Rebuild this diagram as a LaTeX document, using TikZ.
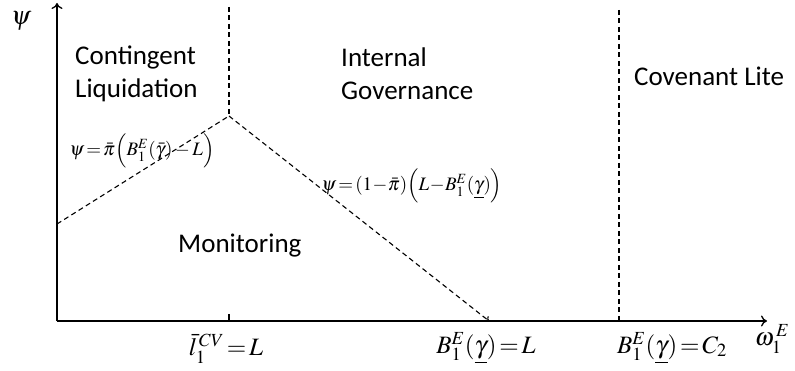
\documentclass[tikz,border=0pt]{standalone}
\usepackage{mathptmx}
\usepackage[no-math]{fontspec}
\setmainfont{Carlito}
\usetikzlibrary{arrows.meta}
\begin{document}
\begin{tikzpicture}[x=1pt,y=-1pt,
  axis/.style={line width=1.3pt, -{To[length=6pt,width=11pt]}},
  dline/.style={line width=1.1pt, dash pattern=on 5pt off 3.5pt},
  region/.style={font=\fontsize{27}{33}\selectfont, align=left, inner sep=0pt},
  eqlab/.style={font=\fontsize{19}{22}\selectfont, inner sep=0pt},
  axlab/.style={font=\fontsize{25}{28}\selectfont, inner sep=0pt}]
\useasboundingbox (0,0) rectangle (795,371);
\coordinate (O) at (57,321);
\coordinate (ytop) at (57,3);
\coordinate (xend) at (767,321);
\draw[axis] (O) -- (ytop);
\draw[axis] (O) -- (xend);
\coordinate (K) at (229,116);
\coordinate (Ktop) at (229,7);
\coordinate (A) at (57,224);
\coordinate (B) at (489,321);
\coordinate (Ctop) at (619,10);
\coordinate (Cbot) at (619,321);
\coordinate (T) at (229,314);
\coordinate (Tb) at (229,321);
\draw[dline] (Ktop) -- (K);
\draw[dline] (A) -- (K);
\draw[dline, -{To[length=4pt,width=7pt]}] (K) -- (B);
\draw[dline] (Ctop) -- (Cbot);
\draw[line width=1.1pt] (T) -- (Tb);
\node[region, anchor=west] (cl) at (75,74) {Contingent\\Liquidation};
\node[region, anchor=west] (ig) at (341,74) {Internal\\Governance};
\node[region, anchor=west] (cov) at (634,76) {Covenant Lite};
\node[region, anchor=west] (mon) at (178,246) {Monitoring};
\node[axlab, font=\fontsize{26}{28}\selectfont] (psi) at (21,21) {$\psi$};
\node[eqlab] (eq1) at (142,151) {$\psi\mkern-2mu=\mkern-2mu\bar\pi\Bigl(B_1^E(\bar\gamma)-L\Bigr)$};
\node[eqlab] (eq2) at (412,186) {$\psi\!=\!(1\!-\!\bar\pi)\Bigl(L\!-\!B_1^E(\underline{\gamma})\Bigr)$};
\node[axlab] (x1) at (226,349) {$\bar l_1^{\,CV}\!=\!L$};
\node[axlab] (x2) at (486,348) {$B_1^E(\underline{\gamma})\!=\!L$};
\node[axlab] (x3) at (672,348) {$B_1^E(\underline{\gamma})\!=\!C_2$};
\node[axlab] (om) at (772,339) {$\omega_1^{\,E}$};
\end{tikzpicture}
\end{document}
